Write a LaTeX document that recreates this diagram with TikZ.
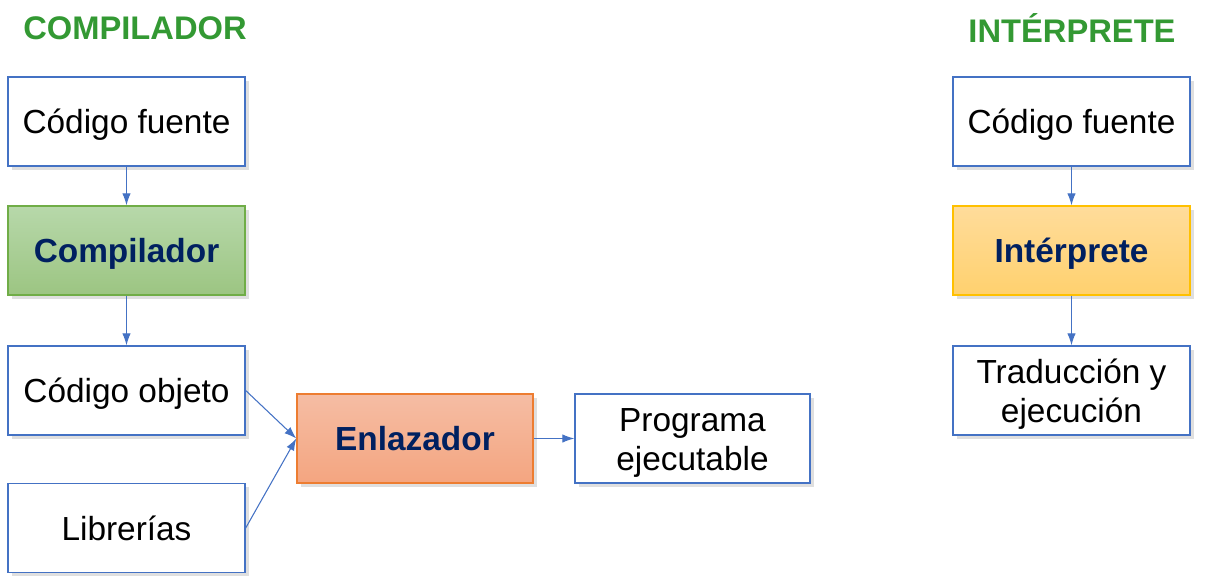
\documentclass[tikz,border=0pt]{standalone}
\usepackage{fontspec}
\setmainfont{Liberation Sans}
\usetikzlibrary{arrows.meta,shadows}

\definecolor{bordeazul}{RGB}{68,114,196}
\definecolor{verdetit}{RGB}{51,153,51}
\definecolor{azuloscuro}{RGB}{0,32,96}

\begin{document}
\begin{tikzpicture}[
		caja/.style={draw=bordeazul, line width=0.8pt, fill=white, minimum width=4.74cm, minimum height=1.78cm, align=center, text height=14.2pt, text depth=0pt, font=\fontsize{19}{22.5}\selectfont, drop shadow={shadow xshift=2pt, shadow yshift=-2pt, opacity=0.25}},
		doble/.style={text height=36.7pt},
		fase/.style={caja, font=\fontsize{19}{22.5}\selectfont\bfseries, text=azuloscuro},
		titulo/.style={font=\fontsize{18.6}{22}\selectfont\bfseries, text=verdetit},
		flecha/.style={-{Latex[length=2.4mm,width=1.7mm]}, draw=bordeazul, line width=0.6pt}
	]
			\useasboundingbox (0, 0) rectangle (24.24, 11.62);
			
			% titulos
			\node[titulo] (tcomp) at (2.70, 11.05) {COMPILADOR};
			\node[titulo] (tinter) at (21.44, 11.05) {INTÉRPRETE};
			
			% compilador
			\node[caja] (fuenteC) at (2.53, 9.19) {Código fuente};
			\node[fase, draw={rgb,255:red,112;green,173;blue,71}, top color={rgb,255:red,183;green,216;blue,170}, bottom color={rgb,255:red,156;green,197;blue,130}] (compilador) at (2.53, 6.61) {Compilador};
			\node[caja] (objeto) at (2.53, 3.81) {Código objeto};
			\node[caja] (librerias) at (2.53, 1.06) {Librerías};
			\node[fase, minimum width=4.72cm, draw={rgb,255:red,237;green,125;blue,49}, top color={rgb,255:red,245;green,189;blue,164}, bottom color={rgb,255:red,244;green,165;blue,128}] (enlazador) at (8.30, 2.85) {Enlazador};
			\node[caja, doble, minimum width=4.70cm] (programa) at (13.85, 2.85) {Programa\\ejecutable};
			
			\draw[flecha] (fuenteC) -- (compilador);
			\draw[flecha] (compilador) -- (objeto);
			\draw[flecha] (objeto.east) -- (enlazador.west);
			\draw[flecha] (librerias.east) -- (enlazador.west);
			\draw[flecha] (enlazador) -- (programa);
			
			% interprete
			\node[caja] (fuenteI) at (21.43, 9.19) {Código fuente};
			\node[fase, draw={rgb,255:red,255;green,192;blue,0}, top color={rgb,255:red,255;green,220;blue,155}, bottom color={rgb,255:red,255;green,209;blue,110}] (interprete) at (21.43, 6.61) {Intérprete};
			\node[caja, doble] (traduccion) at (21.43, 3.81) {Traducción y\\ejecución};
			
			\draw[flecha] (fuenteI) -- (interprete);
			\draw[flecha] (interprete) -- (traduccion);
		\end{tikzpicture}
\end{document}
